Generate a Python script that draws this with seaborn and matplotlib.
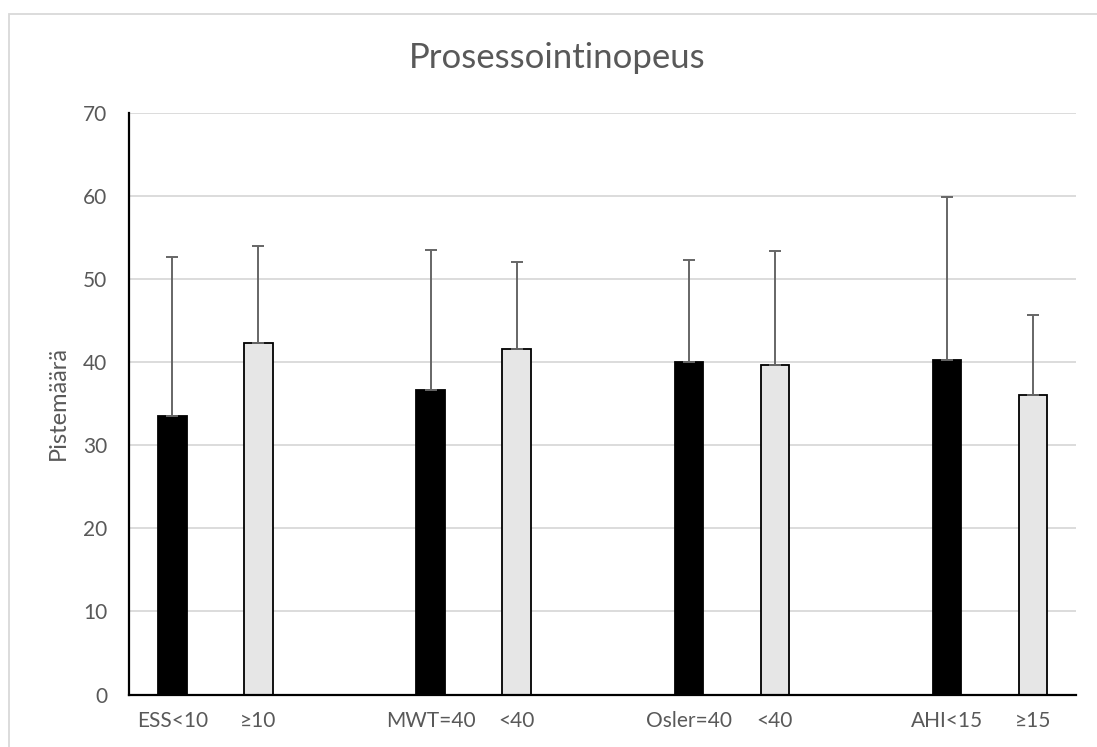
import numpy as np
import pandas as pd
import matplotlib
matplotlib.use("Agg")
import matplotlib.pyplot as plt
from matplotlib.patches import Rectangle
import seaborn as sns

# ---- data ----
categories = ["ESS<10", "≥10", "gap1", "MWT=40", "<40 ", "gap2",
              "Osler=40", "<40", "gap3", "AHI<15", "≥15"]
tick_labels = ["ESS<10", "≥10", "", "MWT=40", "<40", "",
               "Osler=40", "<40", "", "AHI<15", "≥15"]
means = [33.5, 42.3, np.nan, 36.7, 41.6, np.nan, 40.0, 39.6, np.nan, 40.3, 36.1]
upper = [52.6, 54.0, np.nan, 53.5, 52.1, np.nan, 52.3, 53.4, np.nan, 59.9, 45.7]
groups = ["a", "b", "gap", "a", "b", "gap", "a", "b", "gap", "a", "b"]

title = "Prosessointinopeus"
ylabel = "Pistemäärä"

df = pd.DataFrame({"cat": categories, "mean": means, "upper": upper, "grp": groups})
df["sd"] = df["upper"] - df["mean"]

sns.set_theme(style="white")
plt.rcParams["font.family"] = ["Lato", "DejaVu Sans"]

fig = plt.figure(figsize=(10.97, 7.47), dpi=100)
W, H = 1097, 747
ax = fig.add_axes([129.3 / W, 1 - 694.6 / H, (1076 - 129.3) / W, (694.6 - 112.7) / H])

palette = {"a": "black", "b": "#e6e6e6", "gap": "white"}
sns.barplot(data=df, x="cat", y="mean", hue="grp", order=categories,
            palette=palette, dodge=False, width=0.33, errorbar=None,
            edgecolor="black", linewidth=1.3, legend=False, ax=ax, zorder=3)

# error bars (upward only)
pos = {c: i for i, c in enumerate(categories)}
valid = df.dropna(subset=["mean"])
xs = [pos[c] for c in valid["cat"]]
ax.errorbar(xs, valid["mean"], yerr=[np.zeros(len(valid)), valid["sd"]],
            fmt="none", ecolor="#666666", elinewidth=1.4, capsize=4,
            capthick=1.4, zorder=4)

ax.set_xlim(-0.5, len(categories) - 0.5)
ax.set_ylim(0, 70)
ax.set_yticks(range(0, 71, 10))
ax.set_xticks(range(len(categories)))
ax.set_xticklabels(tick_labels)
ax.set_xlabel("")
ax.yaxis.grid(True, color="#d9d9d9", linewidth=1.3, zorder=0)
ax.set_axisbelow(True)
for s in ["top", "right"]:
    ax.spines[s].set_visible(False)
for s in ["left", "bottom"]:
    ax.spines[s].set_color("black")
    ax.spines[s].set_linewidth(1.6)
    ax.spines[s].set_zorder(5)
ax.tick_params(axis="both", length=0, labelsize=15, colors="#595959")
ax.tick_params(axis="x", pad=12)
ax.tick_params(axis="y", pad=16)

ax.set_ylabel(ylabel, fontsize=17, color="#595959")
ax.yaxis.label.set_verticalalignment("center")
ax.yaxis.set_label_coords((58 - 129.3) / 946.7, (694.6 - 403) / 581.9)

fig.text(557 / W, 1 - 68 / H, title, ha="center", va="baseline",
         fontsize=25, color="#595959")

fig.patches.append(Rectangle((8.5 / W, -0.1), 1.2, 1 - 13.5 / H + 0.1,
                             transform=fig.transFigure, fill=False,
                             edgecolor="#d9d9d9", linewidth=1.3))

fig.savefig("out.png", dpi=100, facecolor="white")
